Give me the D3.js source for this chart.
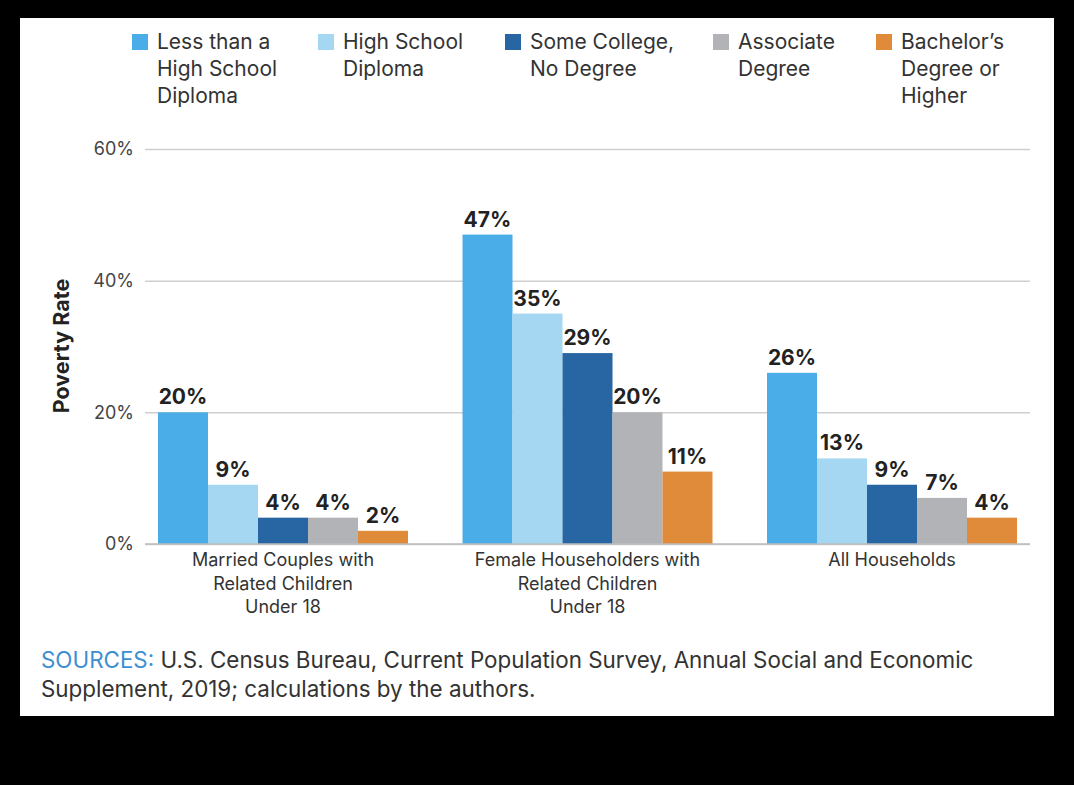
<!DOCTYPE html>
<html>
<head>
<meta charset="utf-8">
<script src="https://cdn.jsdelivr.net/npm/d3@7/dist/d3.min.js"></script>
<style>
  html, body { margin: 0; padding: 0; background: #000; }
  svg { display: block; font-family: Inter, "Open Sans", sans-serif; }
</style>
</head>
<body>
<svg id="chart" width="1074" height="785"></svg>
<script>
// ---- Data ----
const categories = [
  ["Married Couples with", "Related Children", "Under 18"],
  ["Female Householders with", "Related Children", "Under 18"],
  ["All Households"]
];
const seriesNames = [
  ["Less than a", "High School", "Diploma"],
  ["High School", "Diploma"],
  ["Some College,", "No Degree"],
  ["Associate", "Degree"],
  ["Bachelor\u2019s", "Degree or", "Higher"]
];
const lessThanHS   = [20, 47, 26];
const highSchool   = [9, 35, 13];
const someCollege  = [4, 29, 9];
const associate    = [4, 20, 7];
const bachelors    = [2, 11, 4];
const yTicks = [0, 20, 40, 60];
const colors = ["#4aade8", "#a5d7f3", "#2866a3", "#b1b3b6", "#e08b3a"];
const legendX = [132, 318, 505, 713, 876];

const seriesValues = [lessThanHS, highSchool, someCollege, associate, bachelors];

const svg = d3.select("#chart");
// white panel
svg.append("rect").attr("x", 20).attr("y", 18).attr("width", 1034).attr("height", 698).attr("fill", "#fff");

const y = d3.scaleLinear().domain([0, 60]).range([544, 149]);
const x0 = d3.scaleBand().domain(d3.range(categories.length)).range([158, 1017]).paddingInner(0.179).paddingOuter(0);
const x1 = d3.scaleBand().domain(d3.range(seriesValues.length)).range([0, x0.bandwidth()]).padding(0);

// gridlines + y labels
const yAxis = d3.axisLeft(y).tickValues(yTicks).tickSize(-(1030 - 145)).tickFormat(d => d + "%").tickPadding(11);
const gY = svg.append("g").attr("transform", "translate(145,0)").call(yAxis);
gY.select(".domain").remove();
gY.selectAll(".tick line").attr("stroke", "#cfcfcf").attr("stroke-width", 1.5);
gY.selectAll(".tick text").attr("font-size", 18).attr("fill", "#444").attr("font-family", "Inter, sans-serif");

// y title
svg.append("text")
  .attr("transform", "translate(69,346) rotate(-90)")
  .attr("text-anchor", "middle")
  .attr("font-size", 21.5).attr("font-weight", 700).attr("fill", "#222")
  .text("Poverty Rate");

// bars
const groups = svg.append("g").selectAll("g").data(categories).join("g")
  .attr("transform", (d, i) => `translate(${x0(i)},0)`);

groups.each(function(cat, ci) {
  const g = d3.select(this);
  seriesValues.forEach((vals, si) => {
    const v = vals[ci];
    g.append("rect")
      .attr("x", x1(si)).attr("width", x1.bandwidth())
      .attr("y", y(v)).attr("height", y(0) - y(v))
      .attr("fill", colors[si]);
    g.append("text")
      .attr("x", x1(si) + x1.bandwidth() / 2)
      .attr("y", y(v) - 8)
      .attr("text-anchor", "middle")
      .attr("font-size", 21).attr("font-weight", 700).attr("fill", "#222")
      .text(v + "%");
  });
  const t = g.append("text").attr("text-anchor", "middle").attr("font-size", 18).attr("fill", "#333");
  cat.forEach((line, li) => {
    t.append("tspan").attr("x", x0.bandwidth() / 2).attr("y", 566 + li * 23.5).text(line);
  });
});

// baseline
svg.append("line").attr("x1", 145).attr("x2", 1030).attr("y1", y(0)).attr("y2", y(0)).attr("stroke", "#bdbdbd").attr("stroke-width", 1.5);

// legend
seriesNames.forEach((lines, i) => {
  const lg = svg.append("g").attr("transform", `translate(${legendX[i]},0)`);
  lg.append("rect").attr("x", 0).attr("y", 34).attr("width", 16).attr("height", 16).attr("fill", colors[i]);
  const t = lg.append("text").attr("font-size", 21).attr("fill", "#333");
  lines.forEach((line, li) => {
    t.append("tspan").attr("x", 25).attr("y", 49 + li * 27).text(line);
  });
});

// sources
const src = svg.append("text").attr("x", 41).attr("y", 668).attr("font-size", 22.4).attr("fill", "#333");
src.append("tspan").attr("fill", "#3d8fd1").text("SOURCES:");
src.append("tspan").text(" U.S. Census Bureau, Current Population Survey, Annual Social and Economic");
svg.append("text").attr("x", 41).attr("y", 697).attr("font-size", 22.4).attr("fill", "#333")
  .text("Supplement, 2019; calculations by the authors.");
</script>
</body>
</html>
